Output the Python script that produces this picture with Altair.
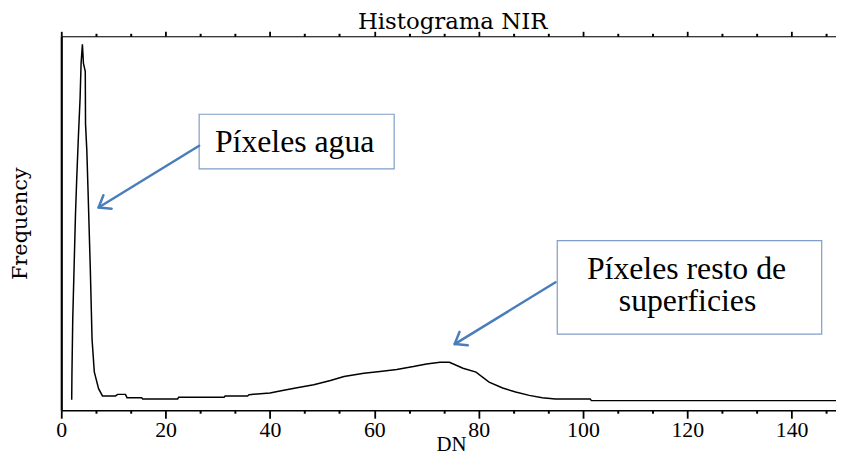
import math
import altair as alt
import pandas as pd

# ---- histogram curve (DN vs frequency, arbitrary units) ----
dn = [2.0, 2.05, 2.2, 2.47, 2.72, 2.97, 3.29, 3.61, 3.8, 4.05, 4.25, 4.6, 4.65, 4.9,
      5.13, 5.57, 5.9, 6.33, 7.15, 7.9, 10.4, 10.8, 12.3, 12.6, 15.4, 15.6, 22.3,
      22.5, 31.2, 31.4, 35.7, 36.0, 40.0, 42.4, 45.2, 48.4, 51.6, 54.2, 58.0, 61.1,
      64.3, 67.5, 70.0, 72.6, 74.4, 77.0, 79.5, 82.0, 84.6, 87.1, 89.7, 92.2, 94.7,
      101.4, 101.6, 148.5]
freq = [1070, 3870, 9170, 14670, 19670, 23470, 27670, 31470, 34970, 36900, 34970,
        34170, 28870, 26170, 22170, 14170, 7170, 3870, 2170, 1440, 1440, 1600, 1600,
        1270, 1270, 1140, 1140, 1300, 1300, 1440, 1440, 1570, 1740, 2000, 2270, 2570,
        3000, 3400, 3740, 3900, 4100, 4400, 4670, 4840, 4840, 4240, 3840, 2840, 2240,
        1840, 1500, 1270, 1140, 1140, 970, 970]

# ---- axis ticks ----
major_ticks = [0, 20, 40, 60, 80, 100, 120, 140]
minor_ticks = [round(k * 20 / 3, 4) for k in range(0, 23) if k % 3 != 0]

# ---- annotations (in data coordinates) ----
box_labels = ["agua", "resto"]
box_x1 = [26.43, 95.07]
box_x2 = [63.81, 145.76]
box_y1 = [29840, 17100]
box_y2 = [24340, 7670]

text_lines = ["Píxeles agua", "Píxeles resto de", "superficies"]
text_x = [44.74, 119.85, 120.04]
text_y = [26000, 13240, 10000]

arrow_tail_x = [26.43, 94.74]
arrow_tail_y = [26670, 12900]
arrow_tip_x = [7.15, 75.41]
arrow_tip_y = [20440, 6670]

X_DOMAIN = [0, 148.5]
Y_DOMAIN = [0, 37700]
W, H = 781, 377

# arrowhead rotation from the arrow direction in screen space
px_x = W / (X_DOMAIN[1] - X_DOMAIN[0])
px_y = H / (Y_DOMAIN[1] - Y_DOMAIN[0])
angles = []
for tx, ty, hx, hy in zip(arrow_tail_x, arrow_tail_y, arrow_tip_x, arrow_tip_y):
    dx = (hx - tx) * px_x
    dy = -(hy - ty) * px_y
    angles.append((math.degrees(math.atan2(dy, dx)) + 360) % 360)

curve = pd.DataFrame({"DN": dn, "Frequency": freq, "i": list(range(len(dn)))})
boxes = pd.DataFrame({"k": box_labels, "x1": box_x1, "x2": box_x2, "y1": box_y1, "y2": box_y2})
texts = pd.DataFrame({"t": text_lines, "x": text_x, "y": text_y})
arrows = pd.DataFrame({"tx": arrow_tail_x, "ty": arrow_tail_y, "hx": arrow_tip_x,
                       "hy": arrow_tip_y, "ang": angles})

xs = alt.Scale(domain=X_DOMAIN, nice=False, zero=False)
ys = alt.Scale(domain=Y_DOMAIN, nice=False, zero=False)

SERIF = "Liberation Serif"
SLAB = "DejaVu Serif"

line = alt.Chart(curve).mark_line(color="black", strokeWidth=1.5).encode(
    x=alt.X("DN:Q", scale=xs, axis=alt.Axis(
        orient="bottom", values=major_ticks, format="d", tickSize=8, tickWidth=1.8,
        tickColor="black", domainColor="black", domainWidth=1.5, grid=False,
        labelFont=SERIF, labelFontSize=22, labelColor="black", labelPadding=1,
        labelFlush=False, labelOverlap=False,
        title="DN", titleFont=SERIF, titleFontSize=21, titleFontWeight="normal",
        titleColor="black", titleX=393, titleY=40.5, titleBaseline="alphabetic",
        titleAlign="center")),
    y=alt.Y("Frequency:Q", scale=ys, axis=alt.Axis(
        orient="left", ticks=False, labels=False, grid=False, domainColor="black",
        domainWidth=2.2, title="Frequency", titleFont=SLAB, titleFontSize=21,
        titleFontWeight="normal", titleColor="black", titleAngle=270,
        titleX=-34.7, titleY=188.5, titleBaseline="alphabetic", titleAlign="center")),
    order="i:Q",
)

rects = alt.Chart(boxes).mark_rect(fill="white", stroke="#7f9dc9", strokeWidth=1.2).encode(
    x=alt.X("x1:Q", scale=xs, axis=alt.Axis(
        orient="bottom", values=minor_ticks, labels=False, domain=False, grid=False,
        tickSize=3, tickWidth=2, tickColor="black", title=None)),
    x2="x2:Q",
    y=alt.Y("y1:Q", scale=ys, axis=None),
    y2="y2:Q",
)

shafts = alt.Chart(arrows).mark_rule(color="#4a7ebb", strokeWidth=2.5, strokeCap="round").encode(
    x=alt.X("tx:Q", scale=xs, axis=alt.Axis(
        orient="top", values=major_ticks, labels=False, grid=False, tickSize=5,
        tickWidth=1.8, tickColor="black", domainColor="black", domainWidth=1.2, title=None)),
    x2="hx:Q",
    y=alt.Y("ty:Q", scale=ys, axis=None),
    y2="hy:Q",
)

heads = alt.Chart(arrows).mark_point(
    shape="M -1 -0.75 L 0 0 L -1 0.75", filled=False, color="#4a7ebb",
    strokeWidth=2.5, size=450, opacity=1, strokeCap="round", strokeJoin="round",
).encode(
    x=alt.X("hx:Q", scale=xs, axis=alt.Axis(
        orient="top", values=minor_ticks, labels=False, domain=False, grid=False,
        tickSize=3, tickWidth=2, tickColor="black", title=None)),
    y=alt.Y("hy:Q", scale=ys, axis=None),
    angle=alt.Angle("ang:Q", scale=None),
)

labels = alt.Chart(texts).mark_text(
    font=SERIF, fontSize=32, color="black", align="center", baseline="alphabetic"
).encode(
    x=alt.X("x:Q", scale=xs, axis=None),
    y=alt.Y("y:Q", scale=ys, axis=None),
    text="t:N",
)

chart = alt.layer(line, rects, shafts, heads, labels).resolve_axis(
    x="independent", y="independent"
).properties(
    width=W, height=H,
    title=alt.TitleParams("Histograma NIR", font=SLAB, fontSize=23, fontWeight="normal",
                          color="black", anchor="middle", baseline="alphabetic",
                          offset=-22, dx=4),
    autosize=alt.AutoSizeParams(type="none"),
    padding={"left": 53.7, "top": 26.7, "right": 0, "bottom": 43},
).configure_view(stroke=None).configure(background="white")

chart.save("out.html", embed_options={"renderer": "svg", "actions": False})
